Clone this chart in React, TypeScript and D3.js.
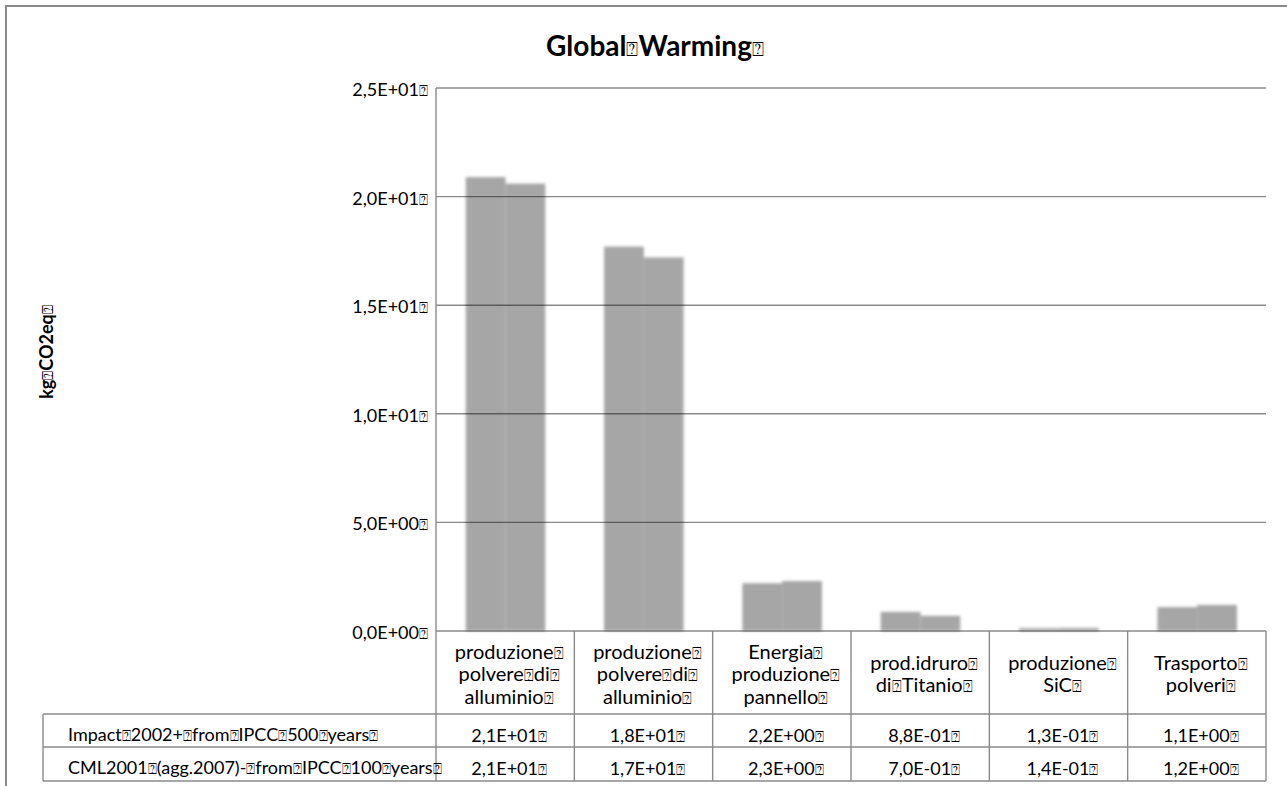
import React from "react";
import * as d3 from "d3";

// Global warming potential per process, kg CO2 eq
const categories: string[][] = [
  ["produzione⍰", "polvere⍰di⍰", "alluminio⍰"],
  ["produzione⍰", "polvere⍰di⍰", "alluminio⍰"],
  ["Energia⍰", "produzione⍰", "pannello⍰"],
  ["prod.idruro⍰", "di⍰Titanio⍰"],
  ["produzione⍰", "SiC⍰"],
  ["Trasporto⍰", "polveri⍰"],
];
const seriesNames = [
  "Impact⍰2002+⍰from⍰IPCC⍰500⍰years⍰",
  "CML2001⍰(agg.2007)-⍰from⍰IPCC⍰100⍰years⍰",
];
const impactValues = [20.9, 17.7, 2.2, 0.88, 0.13, 1.1];
const cmlValues = [20.6, 17.2, 2.3, 0.7, 0.14, 1.2];
const yTicks = [0, 5, 10, 15, 20, 25];
const title = "Global⍰Warming⍰";
const yTitle = "kg⍰CO2eq⍰";

const W = 1287;
const H = 786;
const plotLeft = 436;
const plotRight = 1266;
const plotTop = 88;
const plotBottom = 631;
const headerBottom = 714;
const rowBottoms = [747, 781];
const tableLeft = 43;

const FONT = "Lato, 'Open Sans', sans-serif";
const LINE = "#8a8a8a";

// Scientific notation with comma decimal, e.g. 2,1E+01
function sci(v: number): string {
  if (v === 0) return "0,0E+00";
  const [m, e] = v.toExponential(1).split("e");
  const n = parseInt(e, 10);
  const sign = n < 0 ? "-" : "+";
  return m.replace(".", ",") + "E" + sign + String(Math.abs(n)).padStart(2, "0");
}

// Text where ⍰ marks use a fallback font that carries the glyph
function Boxed({ s, size = "0.85em" }: { s: string; size?: string }) {
  const parts = s.split("⍰");
  const out: React.ReactNode[] = [];
  parts.forEach((p, i) => {
    if (p) out.push(<tspan key={"t" + i}>{p}</tspan>);
    if (i < parts.length - 1)
      out.push(
        <tspan key={"b" + i} fontSize={size} fontFamily="'DejaVu Sans', sans-serif" fontWeight="normal">
          ⍰
        </tspan>
      );
  });
  return <>{out}</>;
}

export default function App() {
  const series = [impactValues, cmlValues];
  const x = d3
    .scaleBand<number>()
    .domain(categories.map((_, i) => i))
    .range([plotLeft, plotRight])
    .padding(0);
  const bw = x.bandwidth();
  const xs = d3
    .scaleBand<number>()
    .domain(series.map((_, i) => i))
    .range([bw * 0.215, bw * 0.79])
    .padding(0);
  const y = d3.scaleLinear().domain([0, 25]).range([plotBottom, plotTop]);

  const colEdges = categories.map((_, i) => (x(i) as number) + bw);

  return (
    <svg
      width={W}
      height={H}
      style={{ position: "absolute", left: 0, top: 0, background: "#fff" }}
      fontFamily={FONT}
    >
      <defs>
        <filter id="soft" x="-10%" y="-10%" width="120%" height="120%">
          <feGaussianBlur stdDeviation="1.4" />
        </filter>
      </defs>
      <rect x={0} y={0} width={W} height={H} fill="#fff" />
      <rect x={6} y={6} width={1400} height={900} fill="none" stroke={LINE} strokeWidth={2} />

      {/* title */}
      <text x={655} y={56} textAnchor="middle" fontSize={28} fontWeight="bold" fill="#000">
        <Boxed s={title} size="0.7em" />
      </text>

      {/* y axis title */}
      <text
        transform={`translate(53,352) rotate(-90)`}
        textAnchor="middle"
        fontSize={18}
        fontWeight="bold"
        fill="#000"
      >
        <Boxed s={yTitle} />
      </text>

      {/* bars */}
      <g filter="url(#soft)">
        {categories.map((_, ci) =>
          series.map((vals, si) => (
            <rect
              key={ci + "-" + si}
              x={(x(ci) as number) + (xs(si) as number)}
              y={y(vals[ci])}
              width={xs.bandwidth()}
              height={plotBottom - y(vals[ci])}
              fill="#a6a6a6"
            />
          ))
        )}
      </g>

      {/* gridlines */}
      {yTicks.map((t) => (
        <line
          key={"g" + t}
          x1={plotLeft}
          x2={plotRight}
          y1={y(t)}
          y2={y(t)}
          stroke="#000"
          strokeOpacity={0.46}
          strokeWidth={1.4}
        />
      ))}

      {/* y tick labels */}
      {yTicks.map((t) => (
        <text key={"l" + t} x={428} y={y(t) + 8} textAnchor="end" fontSize={18} fill="#000">
          <Boxed s={sci(t) + "⍰"} />
        </text>
      ))}

      {/* data table grid */}
      <line x1={plotLeft} x2={plotLeft} y1={plotTop} y2={rowBottoms[1]} stroke={LINE} strokeWidth={1.4} />
      {colEdges.map((cx, i) => (
        <line key={"c" + i} x1={cx} x2={cx} y1={plotBottom} y2={rowBottoms[1]} stroke={LINE} strokeWidth={1.4} />
      ))}
      <line x1={tableLeft} x2={plotRight} y1={headerBottom} y2={headerBottom} stroke={LINE} strokeWidth={1.4} />
      {rowBottoms.map((ry, i) => (
        <line key={"r" + i} x1={tableLeft} x2={plotRight} y1={ry} y2={ry} stroke={LINE} strokeWidth={1.4} />
      ))}
      <line x1={tableLeft} x2={tableLeft} y1={headerBottom} y2={rowBottoms[1]} stroke={LINE} strokeWidth={1.4} />

      {/* category labels */}
      {categories.map((lines, ci) => {
        const cx = (x(ci) as number) + bw / 2 + 4;
        return (
          <text key={"cat" + ci} textAnchor="middle" fontSize={20} fill="#000">
            {lines.map((ln, li) => (
              <tspan key={li} x={cx} y={681 + (li - (lines.length - 1) / 2) * 22.5}>
                <Boxed s={ln} size="0.8em" />
              </tspan>
            ))}
          </text>
        );
      })}

      {/* series rows */}
      {series.map((vals, si) => {
        const top = si === 0 ? headerBottom : rowBottoms[0];
        return (
          <g key={"row" + si}>
            <text x={68} y={top + 27} fontSize={18} fill="#000">
              <Boxed s={seriesNames[si]} />
            </text>
            {vals.map((v, ci) => (
              <text
                key={ci}
                x={(x(ci) as number) + bw / 2 + 4}
                y={top + 28}
                textAnchor="middle"
                fontSize={18}
                fill="#000"
              >
                <Boxed s={sci(v) + "⍰"} />
              </text>
            ))}
          </g>
        );
      })}
    </svg>
  );
}
